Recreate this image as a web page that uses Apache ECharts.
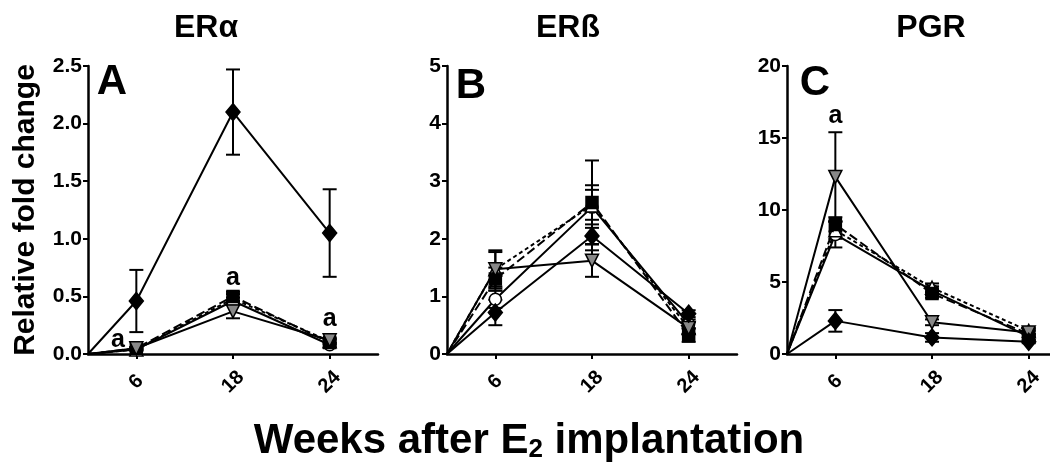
<!DOCTYPE html>
<html>
<head>
<meta charset="utf-8">
<script src="https://cdn.jsdelivr.net/npm/echarts@6/dist/echarts.min.js"></script>
<style>
  html, body { margin: 0; padding: 0; background: #fff; }
  #chart { width: 1050px; height: 463px; }
</style>
</head>
<body>
<div id="chart"></div>
<script>
// ---- Data ----
const weeks = ['6', '18', '24'];
const panelTitles = ['ERα', 'ERß', 'PGR'];
const panelLetters = ['A', 'B', 'C'];
const seriesNames = ['Diamond', 'Circle', 'Square', 'Triangle', 'Inverted triangle'];

// ER alpha (panel A): rows = series in seriesNames order, columns = weeks
const eraMeans = [
  [0.46, 2.10, 1.05],
  [0.04, 0.46, 0.08],
  [0.05, 0.50, 0.10],
  [0.04, 0.48, 0.11],
  [0.05, 0.37, 0.12]
];
const eraErrs = [
  [0.27, 0.37, 0.38],
  [0.01, 0.03, 0.02],
  [0.01, 0.04, 0.02],
  [0.01, 0.04, 0.02],
  [0.01, 0.06, 0.02]
];

// ER beta (panel B)
const erbMeans = [
  [0.72, 2.05, 0.70],
  [0.95, 2.55, 0.52],
  [1.30, 2.63, 0.33],
  [1.47, 2.58, 0.45],
  [1.47, 1.62, 0.45]
];
const erbErrs = [
  [0.22, 0.14, 0.06],
  [0.15, 0.30, 0.08],
  [0.20, 0.30, 0.12],
  [0.33, 0.78, 0.10],
  [0.30, 0.28, 0.10]
];

// PGR (panel C)
const pgrMeans = [
  [2.3, 1.15, 0.85],
  [8.3, 4.4, 1.2],
  [9.0, 4.2, 1.4],
  [8.6, 4.6, 1.6],
  [12.3, 2.2, 1.5]
];
const pgrErrs = [
  [0.75, 0.30, 0.10],
  [0.90, 0.30, 0.20],
  [0.50, 0.30, 0.20],
  [0.60, 0.30, 0.20],
  [3.10, 0.20, 0.20]
];

// y axis ranges per panel
const yMax = [2.5, 5, 20];
const yInterval = [0.5, 1, 5];
const yDecimals = [1, 0, 0];

// significance marks "a": [panel, x position (axis units), y value]
const sigMarks = [
  [0, 0.31, 0.12],
  [0, 1.5, 0.66],
  [0, 2.5, 0.30],
  [2, 0.5, 16.5]
];

// ---- Styles ----
const FONT = '"Liberation Sans", Arial, sans-serif';
// z: drawing order (higher on top)
const symbolStyles = [
  { symbol: 'diamond', size: [14, 17], fill: '#000', dash: 'solid', rotate: 0, z: 9 },
  { symbol: 'circle', size: 12, fill: '#fff', dash: 'solid', rotate: 0, z: 5 },
  { symbol: 'rect', size: 12, fill: '#000', dash: [9, 4], rotate: 0, z: 7 },
  { symbol: 'triangle', size: 13, fill: '#fff', dash: [4, 3], rotate: 0, z: 6 },
  { symbol: 'triangle', size: 13, fill: '#888', dash: 'solid', rotate: 180, z: 8 }
];

const grids = [
  { left: 88, top: 66, width: 290, height: 288 },
  { left: 447, top: 66, width: 290, height: 288 },
  { left: 787, top: 66, right: 0, height: 288 }
];
const xMax = [3, 3, 2.72];

const means = [eraMeans, erbMeans, pgrMeans];
const errs = [eraErrs, erbErrs, pgrErrs];
const catPos = weeks.map((w, i) => i + 0.5);

const xAxes = [], yAxes = [], series = [];
for (let p = 0; p < 3; p++) {
  xAxes.push({
    type: 'value', gridIndex: p, min: 0, max: xMax[p],
    splitLine: { show: false },
    axisLine: { show: true, lineStyle: { color: '#000', width: 2.5 } },
    axisTick: { show: true, customValues: catPos, length: 5, lineStyle: { color: '#000', width: 2 } },
    axisLabel: {
      customValues: catPos, rotate: 45, margin: 28, align: 'center', verticalAlign: 'middle',
      formatter: v => weeks[Math.round(v - 0.5)] ?? '',
      fontFamily: FONT, fontWeight: 'bold', fontSize: 20, color: '#000'
    }
  });
  yAxes.push({
    type: 'value', gridIndex: p, min: 0, max: yMax[p], interval: yInterval[p],
    splitLine: { show: false },
    axisLine: { show: true, lineStyle: { color: '#000', width: 2.5 } },
    axisTick: { show: true, length: 5, lineStyle: { color: '#000', width: 2 } },
    axisLabel: {
      margin: 6, formatter: v => v.toFixed(yDecimals[p]),
      fontFamily: FONT, fontWeight: 'bold', fontSize: 21, color: '#000'
    }
  });

  // error bars
  const ebData = [];
  means[p].forEach((row, s) => row.forEach((m, i) => ebData.push([catPos[i], m, errs[p][s][i]])));
  series.push({
    type: 'custom', xAxisIndex: p, yAxisIndex: p, z: 2, silent: true,
    encode: { x: 0, y: 1 },
    data: ebData,
    renderItem: (params, api) => {
      const x = api.value(0), m = api.value(1), e = api.value(2);
      const t = api.coord([x, m + e]), b = api.coord([x, m - e]);
      const hw = 7;
      const st = { stroke: '#000', lineWidth: 2 };
      return {
        type: 'group', children: [
          { type: 'line', shape: { x1: t[0], y1: t[1], x2: b[0], y2: b[1] }, style: st },
          { type: 'line', shape: { x1: t[0] - hw, y1: t[1], x2: t[0] + hw, y2: t[1] }, style: st },
          { type: 'line', shape: { x1: b[0] - hw, y1: b[1], x2: b[0] + hw, y2: b[1] }, style: st }
        ]
      };
    }
  });

  // lines with markers, each starting from the origin
  for (let s = 0; s < seriesNames.length; s++) {
    const st = symbolStyles[s];
    series.push({
      name: seriesNames[s], type: 'line', xAxisIndex: p, yAxisIndex: p,
      z: st.z,
      symbol: st.symbol, symbolSize: st.size, symbolRotate: st.rotate,
      showAllSymbol: true, animation: false,
      lineStyle: { color: '#000', width: 2, type: st.dash },
      itemStyle: { color: st.fill, borderColor: '#000', borderWidth: 1.5 },
      data: [{ value: [0, 0], symbol: 'none' }].concat(means[p][s].map((v, i) => [catPos[i], v]))
    });
  }

  // significance letters
  const marks = sigMarks.filter(m => m[0] === p).map(m => [m[1], m[2]]);
  if (marks.length) {
    series.push({
      type: 'scatter', xAxisIndex: p, yAxisIndex: p, symbolSize: 0, z: 10, silent: true,
      itemStyle: { opacity: 1 },
      data: marks,
      label: {
        show: true, position: 'inside', formatter: 'a', opacity: 1,
        fontFamily: FONT, fontWeight: 'bold', fontSize: 25, color: '#000'
      }
    });
  }
}

const titleCenters = [206, 568, 931];
const letterPos = [[112, 82], [471, 86], [815, 83]];
const graphics = [];
for (let p = 0; p < 3; p++) {
  graphics.push({
    type: 'text', x: titleCenters[p], y: 28,
    style: { text: panelTitles[p], fontFamily: FONT, fontWeight: 'bold', fontSize: 32, fill: '#000', align: 'center', verticalAlign: 'middle' }
  });
  graphics.push({
    type: 'text', x: letterPos[p][0], y: letterPos[p][1],
    style: { text: panelLetters[p], fontFamily: FONT, fontWeight: 'bold', fontSize: 42, fill: '#000', align: 'center', verticalAlign: 'middle' }
  });
}
graphics.push({
  type: 'text', x: 26, y: 210, rotation: Math.PI / 2,
  style: { text: 'Relative fold change', fontFamily: FONT, fontWeight: 'bold', fontSize: 30, fill: '#000', align: 'center', verticalAlign: 'middle' }
});

const chart = echarts.init(document.getElementById('chart'), null, { renderer: 'canvas' });
chart.setOption({
  animation: false,
  backgroundColor: '#fff',
  title: [{
    text: 'Weeks after E{sub|2} implantation',
    left: 524, top: 414, textAlign: 'center',
    textStyle: {
      fontFamily: FONT, fontWeight: 'bold', fontSize: 42, color: '#000',
      rich: { sub: { fontFamily: FONT, fontWeight: 'bold', fontSize: 26, color: '#000', verticalAlign: 'bottom', padding: [18, 0, 0, 0] } }
    }
  }],
  grid: grids,
  xAxis: xAxes,
  yAxis: yAxes,
  series: series,
  graphic: graphics
});
</script>
</body>
</html>
